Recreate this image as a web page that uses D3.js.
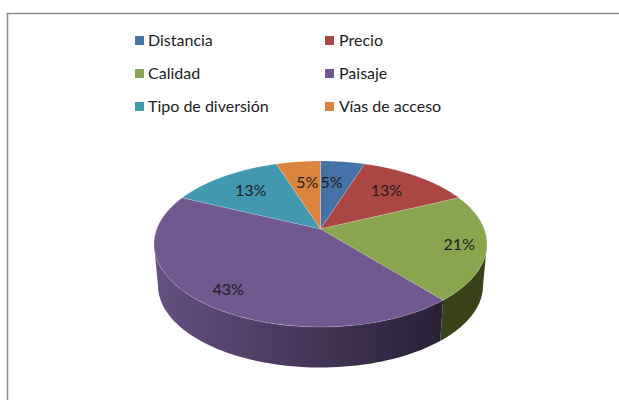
<!DOCTYPE html>
<html>
<head>
<meta charset="utf-8">
<script src="https://cdn.jsdelivr.net/npm/d3@7"></script>
<style>
  html, body { margin: 0; padding: 0; background: #fff; }
  text { font-family: Lato, "Open Sans", sans-serif; fill: #1c1c1c; }
</style>
</head>
<body>
<div id="myGraph"></div>
<script>
var categories = ["Distancia", "Precio", "Calidad", "Paisaje", "Tipo de diversión", "Vías de acceso"];
var percents = [5, 13, 21, 43, 13, 5];
var colors = ["#4572a7", "#aa4643", "#89a54e", "#71588f", "#4198af", "#db843d"];

var w = 619, h = 400;

// pie geometry: the top is tilted so the apex sits above the ellipse centre
var cx = 320.5, cy = 244, rx = 166.5, ry = 83, apexY = 229, tilt = 0.48;
var lowCy = 285.5, lowRx = 162.5, lowRy = 82;

var svg = d3.select("#myGraph").append("svg")
  .attr("width", w).attr("height", h).style("display", "block");

var defs = svg.append("defs");
var grad = defs.append("linearGradient").attr("id", "purpleWall");
grad.append("stop").attr("offset", "0%").attr("stop-color", "#655080");
grad.append("stop").attr("offset", "100%").attr("stop-color", "#292036");

// frame
svg.append("path")
  .attr("d", "M7.5," + h + "V13.5H" + w)
  .attr("fill", "none").attr("stroke", "#8c8c8c").attr("stroke-width", 1.5);

var line = d3.line();

// rim point for a pie angle: ray from the apex out to the ellipse
function rim(a) {
  var dx = Math.sin(a) / rx, dy = -Math.cos(a) * tilt / ry, c = (apexY - cy) / ry;
  var A = dx * dx + dy * dy, B = 2 * c * dy, C = c * c - 1;
  var s = (-B + Math.sqrt(B * B - 4 * A * C)) / (2 * A);
  return [cx + Math.sin(a) * s, apexY - Math.cos(a) * tilt * s, s];
}

function paramOf(a) {
  var p = rim(a);
  var t = Math.atan2((p[0] - cx) / rx, -(p[1] - cy) / ry);
  return t < 0 ? t + 2 * Math.PI : t;
}

var arcs = d3.pie().sort(null)(percents);

// side wall, only the front half of the ellipse shows
function wall(t0, t1) {
  var ts = d3.range(0, 61).map(function(i) { return t0 + (t1 - t0) * i / 60; });
  var top = ts.map(function(t) { return [cx + rx * Math.sin(t), cy - ry * Math.cos(t)]; });
  var low = ts.map(function(t) { return [cx + lowRx * Math.sin(t), lowCy - lowRy * Math.cos(t)]; }).reverse();
  return line(top.concat(low)) + "Z";
}

var startWall = Math.PI / 2, endWall = 3 * Math.PI / 2;
arcs.forEach(function(d, i) {
  var t0 = Math.max(paramOf(d.startAngle), startWall);
  var t1 = Math.min(d.endAngle >= 2 * Math.PI ? 2 * Math.PI : paramOf(d.endAngle), endWall);
  if (t1 <= t0) return;
  svg.append("path")
    .attr("d", wall(t0, t1))
    .attr("fill", i == 3 ? "url(#purpleWall)" : "#394219");
});

// top slices
svg.selectAll("path.slice")
  .data(arcs)
  .enter().append("path")
  .attr("class", "slice")
  .attr("d", function(d) {
    var pts = d3.range(0, 61).map(function(i) {
      return rim(d.startAngle + (d.endAngle - d.startAngle) * i / 60).slice(0, 2);
    });
    return line([[cx, apexY]].concat(pts)) + "Z";
  })
  .attr("fill", function(d, i) { return colors[i]; })
  .attr("stroke", "#fff").attr("stroke-opacity", 0.35).attr("stroke-width", 0.5);

// data labels sit part way along each slice's middle ray, then nudged
var labelFrac = [0.72, 0.62, 0.84, 0.78, 0.62, 0.73];
var labelNudge = [[-5, 2], [6, -6], [-1, 0], [0, 3], [-10, -6], [3, 2]];
svg.selectAll("text.pct")
  .data(arcs)
  .enter().append("text")
  .attr("class", "pct")
  .attr("font-size", 16)
  .attr("text-anchor", "middle")
  .attr("dy", "0.35em")
  .attr("x", function(d, i) {
    var p = rim((d.startAngle + d.endAngle) / 2);
    return cx + (p[0] - cx) * labelFrac[i] + labelNudge[i][0];
  })
  .attr("y", function(d, i) {
    var p = rim((d.startAngle + d.endAngle) / 2);
    return apexY + (p[1] - apexY) * labelFrac[i] + labelNudge[i][1];
  })
  .text(function(d) { return d.data + "%"; });

// legend, two columns
var legX = d3.scalePoint().domain([0, 1]).range([135, 325]);
var legY = d3.scalePoint().domain([0, 1, 2]).range([40.5, 106.5]);

var leg = svg.selectAll("g.leg")
  .data(categories)
  .enter().append("g")
  .attr("class", "leg")
  .attr("transform", function(d, i) {
    return "translate(" + legX(i % 2) + "," + legY(Math.floor(i / 2)) + ")";
  });

leg.append("rect")
  .attr("x", 0).attr("y", -4.5).attr("width", 9).attr("height", 9)
  .attr("fill", function(d, i) { return colors[i]; });

leg.append("text")
  .attr("x", function(d, i) { return i % 2 ? 14 : 13; })
  .attr("dy", "0.35em")
  .attr("font-size", 16)
  .text(function(d) { return d; });
</script>
</body>
</html>
